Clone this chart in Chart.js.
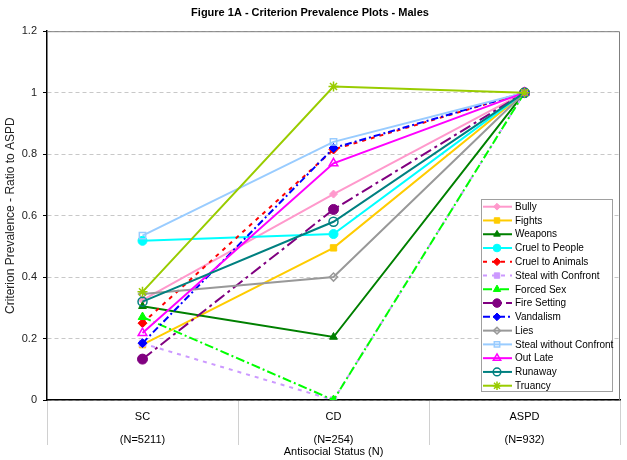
<!DOCTYPE html>
<html>
<head>
<meta charset="utf-8">
<script src="https://cdn.jsdelivr.net/npm/chart.js@4"></script>
<style>
  body { margin: 0; background: #fff; }
  #wrap { width: 627px; height: 460px; }
</style>
</head>
<body>
<div id="wrap"><canvas id="prevChart" width="627" height="460"></canvas></div>
<script>
// categories and values (ratio to ASPD)
const categories = ['SC', 'CD', 'ASPD'];
const groupSizes = ['(N=5211)', '(N=254)', '(N=932)'];
const yTicks = [0, 0.2, 0.4, 0.6, 0.8, 1, 1.2];

const bully = [0.325, 0.67, 1];
const fights = [0.18, 0.495, 1];
const weapons = [0.305, 0.205, 1];
const cruelToPeople = [0.518, 0.54, 1];
const cruelToAnimals = [0.25, 0.815, 1];
const stealWithConfront = [0.184, 0.0, 1];
const forcedSex = [0.27, 0.0, 1];
const fireSetting = [0.133, 0.62, 1];
const vandalism = [0.185, 0.82, 1];
const lies = [0.345, 0.40, 1];
const stealWithoutConfront = [0.535, 0.84, 1];
const outLate = [0.218, 0.77, 1];
const runaway = [0.32, 0.58, 1];
const truancy = [0.352, 1.02, 1];

const FONT = "Arial, 'Liberation Sans', sans-serif";

// style per series: [label, data, color, pointStyle, filled, radius, dash]
const seriesDefs = [
    ['Bully', bully, '#FF99CC', 'rectRot', true, 4, []],
    ['Fights', fights, '#FFCC00', 'rect', true, 4.5, []],
    ['Weapons', weapons, '#008000', 'triangle', true, 4.5, []],
    ['Cruel to People', cruelToPeople, '#00FFFF', 'circle', true, 4.5, []],
    ['Cruel to Animals', cruelToAnimals, '#FF0000', 'rectRot', true, 4.5, [4, 5]],
    ['Steal with Confront', stealWithConfront, '#CC99FF', 'rect', true, 4.5, [4, 5]],
    ['Forced Sex', forcedSex, '#00FF00', 'triangle', true, 5, [9, 3, 2, 3]],
    ['Fire Setting', fireSetting, '#800080', 'circle', true, 5, [12, 4, 3, 4]],
    ['Vandalism', vandalism, '#0000FF', 'rectRot', true, 4.5, [7, 3, 2, 3]],
    ['Lies', lies, '#999999', 'rectRot', false, 4, []],
    ['Steal without Confront', stealWithoutConfront, '#99CCFF', 'rect', false, 4.5, []],
    ['Out Late', outLate, '#FF00FF', 'triangle', false, 5, []],
    ['Runaway', runaway, '#008080', 'circle', false, 4.5, []],
    ['Truancy', truancy, '#99CC00', 'star', false, 5, []]
];

const datasets = seriesDefs.map((s, i) => ({
    label: s[0],
    data: s[1],
    borderColor: s[2],
    backgroundColor: s[4] ? s[2] : 'rgba(255,255,255,0)',
    pointBorderColor: s[2],
    pointBackgroundColor: s[4] ? s[2] : 'rgba(255,255,255,0)',
    pointStyle: s[3],
    pointRadius: s[5],
    pointBorderWidth: s[4] ? 1 : 1.5,
    borderWidth: 2,
    borderDash: s[6],
    tension: 0,
    fill: false,
    order: seriesDefs.length - i   // later series on top, like the original
}));

// legend box drawn inside the plot, bottom right
const boxLegend = {
    id: 'boxLegend',
    afterDatasetsDraw(chart) {
        const ctx = chart.ctx;
        const x = 481, y = 199, w = 131, h = 192;
        const rowH = 13.77;
        ctx.save();
        ctx.fillStyle = '#fff';
        ctx.fillRect(x, y, w, h);
        ctx.strokeStyle = '#a0a0a0';
        ctx.lineWidth = 1;
        ctx.strokeRect(x + 0.5, y + 0.5, w, h);
        ctx.font = '10px ' + FONT;
        ctx.textBaseline = 'middle';
        chart.data.datasets.forEach((ds, i) => {
            const cy = y + 7.7 + i * rowH;
            ctx.strokeStyle = ds.borderColor;
            ctx.lineWidth = 2;
            ctx.setLineDash(ds.borderDash);
            ctx.beginPath();
            ctx.moveTo(x + 2, cy);
            ctx.lineTo(x + 31, cy);
            ctx.stroke();
            ctx.setLineDash([]);
            ctx.fillStyle = ds.pointBackgroundColor;
            ctx.strokeStyle = ds.pointBorderColor;
            ctx.lineWidth = ds.pointBorderWidth;
            Chart.helpers.drawPoint(ctx, {
                pointStyle: ds.pointStyle,
                radius: ds.pointRadius * 0.85,
                rotation: 0,
                borderWidth: ds.pointBorderWidth
            }, x + 16, cy);
            ctx.fillStyle = '#000';
            ctx.fillText(ds.label, x + 34, cy + 0.5);
        });
        ctx.restore();
    }
};

// gray frame on top and right of the plot
const plotFrame = {
    id: 'plotFrame',
    afterDraw(chart) {
        const a = chart.chartArea;
        const ctx = chart.ctx;
        ctx.save();
        ctx.strokeStyle = '#7f7f7f';
        ctx.lineWidth = 1;
        ctx.beginPath();
        ctx.moveTo(a.left, a.top + 0.5);
        ctx.lineTo(a.right - 0.5, a.top + 0.5);
        ctx.lineTo(a.right - 0.5, a.bottom);
        ctx.stroke();
        ctx.restore();
    }
};

new Chart(document.getElementById('prevChart'), {
    type: 'line',
    data: {
        labels: categories.map((c, i) => [c, groupSizes[i]]),
        datasets: datasets
    },
    options: {
        responsive: false,
        animation: false,
        layout: { padding: { left: 0, right: 7, top: 0, bottom: 0 } },
        plugins: {
            legend: { display: false },
            tooltip: { enabled: false },
            title: {
                display: true,
                text: 'Figure 1A - Criterion Prevalence Plots - Males',
                color: '#000',
                font: { family: FONT, size: 11, weight: 'bold' },
                padding: { top: 6, bottom: 12 }
            }
        },
        scales: {
            x: {
                offset: true,
                grid: {
                    offset: true,
                    drawOnChartArea: false,
                    drawTicks: true,
                    tickLength: 45,
                    color: '#d0d0d0'
                },
                border: { display: true, color: '#000', width: 1.5 },
                ticks: {
                    padding: -39.5,
                    color: '#000',
                    maxRotation: 0,
                    font: { family: FONT, size: 11, lineHeight: 2.1 }
                },
                title: {
                    display: true,
                    text: 'Antisocial Status (N)',
                    color: '#000',
                    font: { family: FONT, size: 11 },
                    padding: { top: 0, bottom: 1 }
                },
                afterFit(scale) { scale.height = 60; }
            },
            y: {
                min: 0,
                max: 1.2,
                afterBuildTicks(scale) {
                    scale.ticks = yTicks.map(v => ({ value: v }));
                },
                grid: {
                    color: '#c8c8c8',
                    tickColor: '#000',
                    tickLength: 4,
                    drawTicks: true
                },
                border: { display: true, color: '#000', width: 1.5, dash: [4, 3] },
                ticks: {
                    padding: 6,
                    color: '#222',
                    font: { family: FONT, size: 11 },
                    callback: v => String(v)
                },
                title: {
                    display: true,
                    text: 'Criterion Prevalence - Ratio to ASPD',
                    color: '#222',
                    font: { family: FONT, size: 12 },
                    padding: { top: 3, bottom: 0 }
                },
                afterFit(scale) { scale.width = 47; }
            }
        }
    },
    plugins: [boxLegend, plotFrame]
});
</script>
</body>
</html>
